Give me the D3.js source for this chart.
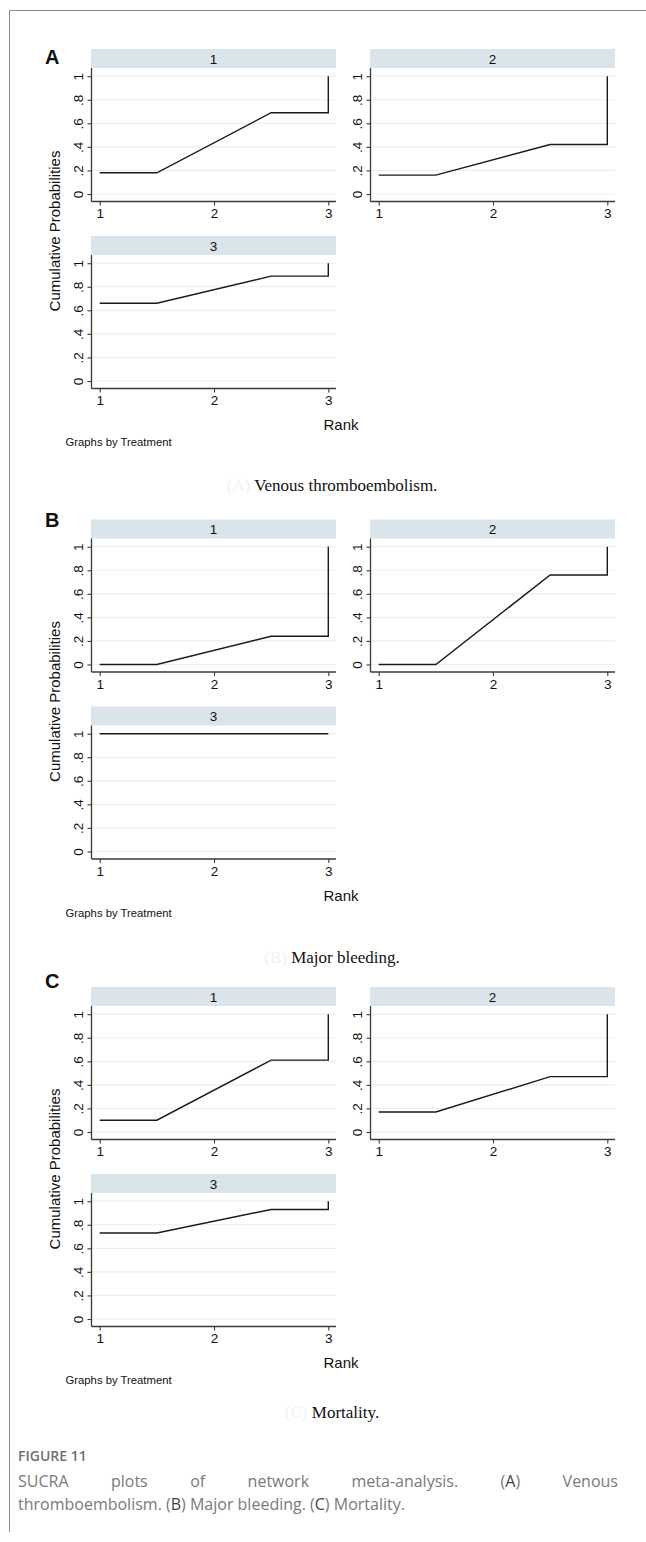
<!DOCTYPE html>
<html>
<head>
<meta charset="utf-8">
<script src="https://cdn.jsdelivr.net/npm/d3@7"></script>
<style>
  html, body { margin: 0; padding: 0; background: #fff; }
  svg { display: block; }
</style>
</head>
<body>
<svg id="fig" width="646" height="1542"></svg>
<script>
// ---- data ----
const panelLetters = ["A", "B", "C"];
const outcomeNames = ["Venous thromboembolism.", "Major bleeding.", "Mortality."];
const treatments = ["1", "2", "3"];
const ranks = [1, 2, 3];
// cumulative probability of being ranked at or above each rank, per treatment
const vteCumulative = [
  [0.18, 0.69, 1.00],
  [0.16, 0.42, 1.00],
  [0.66, 0.89, 1.00]
];
const bleedingCumulative = [
  [0.00, 0.24, 1.00],
  [0.00, 0.76, 1.00],
  [1.00, 1.00, 1.00]
];
const mortalityCumulative = [
  [0.10, 0.61, 1.00],
  [0.17, 0.47, 1.00],
  [0.73, 0.93, 1.00]
];
const yTickValues = [0, 0.2, 0.4, 0.6, 0.8, 1];
const yTickLabels = ["0", ".2", ".4", ".6", ".8", "1"];
const xTickValues = [1, 2, 3];
const yAxisTitle = "Cumulative Probabilities";
const xAxisTitle = "Rank";
const byNote = "Graphs by Treatment";
const figureLabel = "FIGURE 11";
const figureCaptionLine1 = ["SUCRA", "plots", "of", "network", "meta-analysis.", "(A)", "Venous"];
const figureCaptionLine2 = "thromboembolism. (B) Major bleeding. (C) Mortality.";

const panelData = [vteCumulative, bleedingCumulative, mortalityCumulative];

// ---- layout ----
const svg = d3.select("#fig");
svg.append("rect").attr("width", 646).attr("height", 1542).attr("fill", "#fff");

// page frame lines
svg.append("line").attr("x1", 9.5).attr("x2", 646).attr("y1", 10.5).attr("y2", 10.5)
  .attr("stroke", "#8a8a8a").attr("stroke-width", 1);
svg.append("line").attr("x1", 9.5).attr("x2", 9.5).attr("y1", 10.5).attr("y2", 1532)
  .attr("stroke", "#8a8a8a").attr("stroke-width", 1);

const panelOffsets = [0, 470.5, 938];
const letterBaselines = [64, 527, 988];
const captionBaselines = [491, 963, 1418];
const colAxisX = [91.5, 370.5];
const rowStripTop = [49, 236];
const stripW = 245, stripH = 19;

const sans = "'Liberation Sans', Arial, Helvetica, sans-serif";
const gridColor = "#e8f0f2";
const stripColor = "#d9e4eb";
const axisColor = "#3a3a3a";

// path through the cumulative values: flat start, sloped middle, flat end, jump at last rank
function rankPath(vals) {
  const n = vals.length;
  const pts = [[ranks[0], vals[0]], [ranks[0] + 0.5, vals[0]]];
  for (let i = 1; i < n - 1; i++) {
    pts.push([ranks[i] + 0.5, vals[i]]);
  }
  pts.push([ranks[n - 1], vals[n - 2]]);
  pts.push([ranks[n - 1], vals[n - 1]]);
  return pts;
}

panelData.forEach((series, p) => {
  const off = panelOffsets[p];
  const g = svg.append("g");

  // panel letter
  g.append("text").attr("x", 45).attr("y", letterBaselines[p])
    .attr("font-family", sans).attr("font-weight", "bold").attr("font-size", 20)
    .attr("fill", "#111").text(panelLetters[p]);

  series.forEach((vals, i) => {
    const col = i % 2, row = Math.floor(i / 2);
    const ax = colAxisX[col];
    const st = rowStripTop[row] + off;
    const yTop = st + 27.2, yBot = st + 145, axisY = st + 152.5;

    const x = d3.scaleLinear().domain([1, 3]).range([ax + 8.2, ax + 236.8]);
    const y = d3.scaleLinear().domain([0, 1]).range([yBot, yTop]);

    const sg = g.append("g");
    // strip
    sg.append("rect").attr("x", ax - 0.5).attr("y", st).attr("width", stripW).attr("height", stripH)
      .attr("fill", stripColor);
    sg.append("text").attr("x", ax - 0.5 + stripW / 2).attr("y", st + stripH / 2 + 5)
      .attr("text-anchor", "middle").attr("font-family", sans).attr("font-size", 13.5)
      .attr("fill", "#111").text(treatments[i]);

    // grid lines
    sg.selectAll("line.grid").data(yTickValues).join("line")
      .attr("class", "grid")
      .attr("x1", ax).attr("x2", ax - 0.5 + stripW)
      .attr("y1", d => y(d)).attr("y2", d => y(d))
      .attr("stroke", gridColor).attr("stroke-width", 1.2);

    // y axis
    const yAxis = d3.axisLeft(y).tickValues(yTickValues)
      .tickFormat((d, k) => yTickLabels[k]).tickSize(4).tickPadding(4);
    const yg = sg.append("g").attr("transform", `translate(${ax},0)`).call(yAxis);
    yg.select(".domain").attr("d", `M-0,${st + stripH}V${axisY}`)
      .attr("stroke", axisColor).attr("stroke-width", 1.3);
    yg.selectAll(".tick line").attr("stroke", axisColor).attr("stroke-width", 1.1);
    yg.selectAll(".tick text")
      .attr("font-family", sans).attr("font-size", 13.5).attr("fill", "#111")
      .attr("x", null).attr("dy", null)
      .attr("text-anchor", "middle")
      .attr("transform", "translate(-8.5,0) rotate(-90)");

    // x axis
    const xAxis = d3.axisBottom(x).tickValues(xTickValues).tickFormat(d3.format("d"))
      .tickSize(4).tickPadding(3);
    const xg = sg.append("g").attr("transform", `translate(0,${axisY})`).call(xAxis);
    xg.select(".domain").attr("d", `M${ax},0H${ax - 0.5 + stripW}`)
      .attr("stroke", axisColor).attr("stroke-width", 1.3);
    xg.selectAll(".tick line").attr("stroke", axisColor).attr("stroke-width", 1.1);
    xg.selectAll(".tick text").attr("font-family", sans).attr("font-size", 13.5).attr("fill", "#111");

    // cumulative rank line
    const line = d3.line().x(d => x(d[0])).y(d => y(d[1]));
    sg.append("path").attr("d", line(rankPath(vals)))
      .attr("fill", "none").attr("stroke", "#1a1a1a").attr("stroke-width", 1.4)
      .attr("stroke-linejoin", "miter");
  });

  // axis titles
  const yc = rowStripTop[0] + off + 182;
  g.append("text").attr("transform", `translate(59.5,${yc}) rotate(-90)`)
    .attr("text-anchor", "middle").attr("font-family", sans).attr("font-size", 15)
    .attr("fill", "#111").text(yAxisTitle);
  g.append("text").attr("x", 341).attr("y", rowStripTop[0] + off + 381)
    .attr("text-anchor", "middle").attr("font-family", sans).attr("font-size", 15)
    .attr("fill", "#111").text(xAxisTitle);
  g.append("text").attr("x", 65.5).attr("y", rowStripTop[0] + off + 397)
    .attr("font-family", sans).attr("font-size", 11.3)
    .attr("fill", "#111").text(byNote);

  // sub-caption
  const cap = g.append("text").attr("x", 332).attr("y", captionBaselines[p])
    .attr("text-anchor", "middle")
    .attr("font-family", "'Liberation Serif', 'Times New Roman', serif").attr("font-size", 17);
  cap.append("tspan").attr("fill", "#f1f1f1").text(`(${panelLetters[p]}) `);
  cap.append("tspan").attr("fill", "#111").text(outcomeNames[p]);
});

// ---- figure caption ----
const capFont = "'Open Sans', 'Noto Sans', sans-serif";
svg.append("text").attr("x", 18).attr("y", 1461)
  .attr("font-family", capFont).attr("font-size", 14).attr("font-weight", 600)
  .attr("fill", "#6f6f6f").text(figureLabel);

function captionWord(parent, word, xPos, yPos) {
  const t = parent.append("text").attr("x", xPos).attr("y", yPos)
    .attr("font-family", capFont).attr("font-size", 16).attr("fill", "#7a7a7a");
  const m = word.match(/^\(([A-C])\)(.*)$/);
  if (m) {
    t.append("tspan").text("(");
    t.append("tspan").attr("fill", "#444").text(m[1]);
    t.append("tspan").text(")" + m[2]);
  } else {
    t.text(word);
  }
  return t;
}

// first line: justified between the left and right margins
const left = 18, right = 618;
const line1 = svg.append("g");
const words = figureCaptionLine1.map(w => captionWord(line1, w, 0, 1487));
const widths = words.map(t => t.node().getComputedTextLength());
const gap = (right - left - d3.sum(widths)) / (words.length - 1);
let cx = left;
words.forEach((t, k) => { t.attr("x", cx); cx += widths[k] + gap; });

// second line: natural spacing, with the panel letters in darker ink
const l2 = svg.append("text").attr("x", left).attr("y", 1510)
  .attr("font-family", capFont).attr("font-size", 16).attr("fill", "#7a7a7a");
figureCaptionLine2.split(/(\([A-C]\))/).forEach(part => {
  const m = part.match(/^\(([A-C])\)$/);
  if (m) {
    l2.append("tspan").text("(");
    l2.append("tspan").attr("fill", "#444").text(m[1]);
    l2.append("tspan").text(")");
  } else if (part.length) {
    l2.append("tspan").text(part);
  }
});
</script>
</body>
</html>
